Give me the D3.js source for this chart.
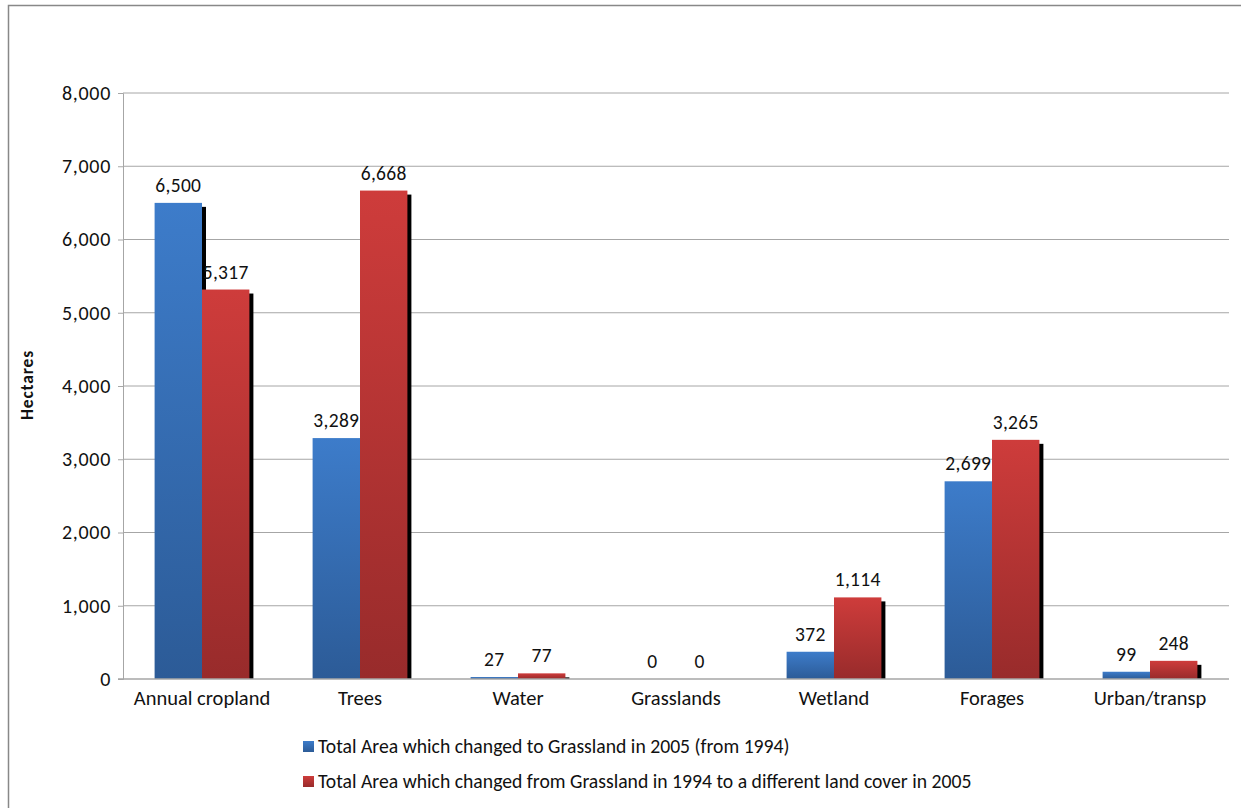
<!DOCTYPE html>
<html>
  <head>
    <title>Grassland change</title>
    <script src="https://d3js.org/d3.v7.min.js"></script>
    <style>
      body { margin: 0; background: #fff; }
      text { font-family: Carlito, Lato, "Open Sans", sans-serif; fill: #111; }
    </style>
  </head>
  <body>
    <svg id="chart" width="1241" height="808"></svg>
    <script>
      var categories = ["Annual cropland", "Trees", "Water", "Grasslands", "Wetland", "Forages", "Urban/transp"];
      var toGrassland = [6500, 3289, 27, 0, 372, 2699, 99];
      var fromGrassland = [5317, 6668, 77, 0, 1114, 3265, 248];
      var yTicks = [0, 1000, 2000, 3000, 4000, 5000, 6000, 7000, 8000];
      var seriesNames = [
        "Total Area which changed to Grassland in 2005 (from 1994)",
        "Total Area which changed from Grassland in 1994 to a different land cover in 2005"
      ];

      var svg = d3.select("#chart");
      var pLeft = 123, pRight = 1229, pTop = 93, pBottom = 679;

      // outer chart border (runs off the right and bottom edge)
      svg.append("rect")
        .attr("x", 8.5).attr("y", 5.5)
        .attr("width", 1260).attr("height", 820)
        .attr("fill", "none").attr("stroke", "#888").attr("stroke-width", 1.5);

      var defs = svg.append("defs");
      function grad(id, c1, c2) {
        var g = defs.append("linearGradient").attr("id", id)
          .attr("x1", 0).attr("y1", 0).attr("x2", 0).attr("y2", 1);
        g.append("stop").attr("offset", "0%").attr("stop-color", c1);
        g.append("stop").attr("offset", "100%").attr("stop-color", c2);
      }
      grad("gBlue", "#3d7cca", "#2c5b97");
      grad("gRed", "#ce3c3b", "#982b2b");

      var x = d3.scaleBand().domain(categories).range([pLeft, pRight]);
      var y = d3.scaleLinear().domain([0, 8000]).range([pBottom, pTop]);
      var bw = x.bandwidth();

      // gridlines
      svg.append("g").selectAll("line").data(yTicks.slice(1)).join("line")
        .attr("x1", pLeft).attr("x2", pRight)
        .attr("y1", d => y(d)).attr("y2", d => y(d))
        .attr("stroke", "#a6a6a6").attr("stroke-width", 1);

      var yAxis = svg.append("g").attr("transform", "translate(" + pLeft + ",0)")
        .call(d3.axisLeft(y).tickValues(yTicks).tickSize(5).tickPadding(7).tickFormat(d3.format(",")));
      yAxis.select(".domain").attr("stroke", "#a6a6a6");
      yAxis.selectAll(".tick line").attr("stroke", "#a6a6a6");
      yAxis.selectAll("text").attr("font-size", 20).attr("letter-spacing", 0.7).attr("fill", "#111")
        .attr("font-family", "Carlito, Lato, sans-serif");

      svg.append("text")
        .attr("transform", "translate(33," + ((pTop + pBottom) / 2 - 1) + ") rotate(-90)")
        .attr("text-anchor", "middle").attr("font-size", 17.5).attr("letter-spacing", 0.8)
        .attr("font-weight", "bold")
        .text("Hectares");

      var series = [
        { vals: toGrassland, fill: "url(#gBlue)", off: 0.2 },
        { vals: fromGrassland, fill: "url(#gRed)", off: 0.5 }
      ];
      var barW = bw * 0.3;

      series.forEach(function (s) {
        var g = svg.append("g");
        // shadow
        g.selectAll("rect.sh").data(categories).join("rect").attr("class", "sh")
          .attr("x", (c, i) => x(c) + bw * s.off + 4)
          .attr("y", (c, i) => Math.min(y(s.vals[i]) + 4, pBottom))
          .attr("width", barW)
          .attr("height", (c, i) => Math.max(0, pBottom - y(s.vals[i]) - 4))
          .attr("fill", "#000");
        g.selectAll("rect.bar").data(categories).join("rect").attr("class", "bar")
          .attr("x", (c, i) => x(c) + bw * s.off)
          .attr("y", (c, i) => y(s.vals[i]))
          .attr("width", barW)
          .attr("height", (c, i) => pBottom - y(s.vals[i]))
          .attr("fill", s.fill);
      });

      // baseline
      svg.append("line").attr("x1", pLeft - 5).attr("x2", pRight)
        .attr("y1", pBottom).attr("y2", pBottom)
        .attr("stroke", "#a6a6a6").attr("stroke-width", 1.5);

      series.forEach(function (s) {
        svg.append("g").selectAll("text").data(categories).join("text")
          .attr("x", (c, i) => x(c) + bw * s.off + barW / 2)
          .attr("y", (c, i) => y(s.vals[i]) - 11)
          .attr("text-anchor", "middle").attr("font-size", 19.5).attr("letter-spacing", 0.3)
          .text((c, i) => d3.format(",")(s.vals[i]));
      });

      svg.append("g").selectAll("text").data(categories).join("text")
        .attr("x", c => x(c) + bw / 2)
        .attr("y", pBottom + 26)
        .attr("text-anchor", "middle").attr("font-size", 20.5)
        .text(c => c);

      // legend
      var legendColors = ["url(#gBlue)", "url(#gRed)"];
      var lg = svg.append("g").selectAll("g").data(seriesNames).join("g")
        .attr("transform", (d, i) => "translate(303," + (741 + i * 35) + ")");
      lg.append("rect").attr("width", 11).attr("height", 11)
        .attr("fill", (d, i) => legendColors[i]);
      lg.append("text").attr("x", 15).attr("y", 12).attr("font-size", 19.7).text(d => d);
    </script>
  </body>
</html>
